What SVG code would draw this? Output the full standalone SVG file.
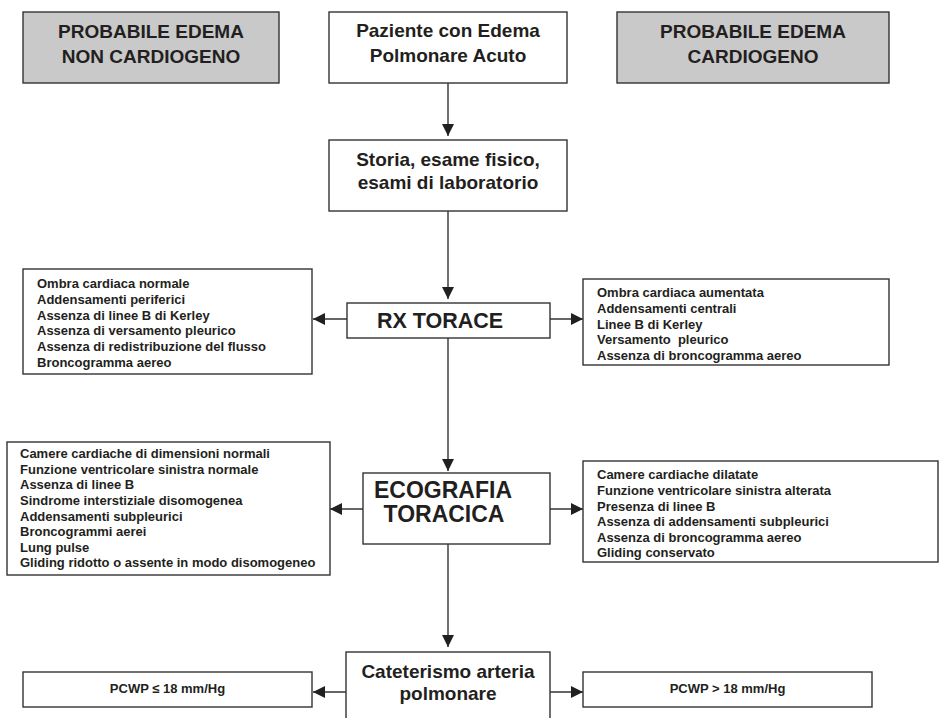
<svg xmlns="http://www.w3.org/2000/svg" width="939" height="718" viewBox="0 0 939 718">
<style>
.box{fill:#fff;stroke:#333;stroke-width:1.4}
.gray{fill:#c9c9c9;stroke:#333;stroke-width:1.4}
text{font-family:"Liberation Sans",Arial,sans-serif;font-weight:bold;fill:#231f20}
.t19{font-size:19px;text-anchor:middle}
.big{text-anchor:middle}
.li{font-size:13px;white-space:pre}
.pc{font-size:13px;text-anchor:middle}
.conn{stroke:#333;stroke-width:1.4;fill:none;marker-end:url(#ah)}
</style>
<defs>
<marker id="ah" viewBox="0 0 12 12" refX="12" refY="6" markerWidth="12" markerHeight="12" markerUnits="userSpaceOnUse" orient="auto">
<path d="M0,0 L12,6 L0,12 z" fill="#231f20"/>
</marker>
</defs>
<rect width="939" height="718" fill="#fff"/>

<g id="connectors">
<line class="conn" x1="448" y1="83" x2="448" y2="136"/>
<line class="conn" x1="448" y1="211" x2="448" y2="299"/>
<line class="conn" x1="347" y1="319" x2="313" y2="319"/>
<line class="conn" x1="550" y1="319" x2="583" y2="319"/>
<line class="conn" x1="448" y1="338" x2="448" y2="471"/>
<line class="conn" x1="363" y1="509" x2="330" y2="509"/>
<line class="conn" x1="550" y1="509" x2="583" y2="509"/>
<line class="conn" x1="448" y1="544" x2="448" y2="647"/>
<line class="conn" x1="346" y1="692" x2="313" y2="692"/>
<line class="conn" x1="550" y1="692" x2="583" y2="692"/>
</g>

<g id="non-cardiogeno">
<rect class="gray" x="23" y="12" width="256" height="71"/>
<text class="t19" x="151" y="38">PROBABILE EDEMA</text>
<text class="t19" x="151" y="63">NON CARDIOGENO</text>
</g>

<g id="paziente">
<rect class="box" x="329" y="12" width="238" height="71"/>
<text class="t19" x="448" y="37">Paziente con Edema</text>
<text class="t19" x="448" y="62">Polmonare Acuto</text>
</g>

<g id="cardiogeno">
<rect class="gray" x="617" y="12" width="272" height="71"/>
<text class="t19" x="753" y="38">PROBABILE EDEMA</text>
<text class="t19" x="753" y="63">CARDIOGENO</text>
</g>

<g id="storia">
<rect class="box" x="329" y="140" width="238" height="71"/>
<text class="t19" x="448" y="166">Storia, esame fisico,</text>
<text class="t19" x="448" y="189">esami di laboratorio</text>
</g>

<g id="rx">
<rect class="box" x="347" y="303" width="203" height="35"/>
<text class="big" x="440" y="328" font-size="21.5">RX TORACE</text>
</g>

<g id="rx-non-cardio">
<rect class="box" x="23" y="269" width="289" height="105"/>
<text class="li" x="37" y="288.3">Ombra cardiaca normale</text>
<text class="li" x="37" y="304">Addensamenti periferici</text>
<text class="li" x="37" y="319.7">Assenza di linee B di Kerley</text>
<text class="li" x="37" y="335.4">Assenza di versamento pleurico</text>
<text class="li" x="37" y="351">Assenza di redistribuzione del flusso</text>
<text class="li" x="37" y="366.7">Broncogramma aereo</text>
</g>

<g id="rx-cardio">
<rect class="box" x="583" y="279" width="306" height="86"/>
<text class="li" x="597" y="297.3">Ombra cardiaca aumentata</text>
<text class="li" x="597" y="313">Addensamenti centrali</text>
<text class="li" x="597" y="328.7">Linee B di Kerley</text>
<text class="li" x="597" y="344.4" xml:space="preserve">Versamento  pleurico</text>
<text class="li" x="597" y="360.1">Assenza di broncogramma aereo</text>
</g>

<g id="eco">
<rect class="box" x="363" y="473" width="187" height="71"/>
<text class="big" x="443" y="498" font-size="23">ECOGRAFIA</text>
<text class="big" x="444" y="522" font-size="23">TORACICA</text>
</g>

<g id="eco-non-cardio">
<rect class="box" x="7" y="442" width="323" height="133"/>
<text class="li" x="20" y="458.3">Camere cardiache di dimensioni normali</text>
<text class="li" x="20" y="473.9">Funzione ventricolare sinistra normale</text>
<text class="li" x="20" y="489.4">Assenza di linee B</text>
<text class="li" x="20" y="505">Sindrome interstiziale disomogenea</text>
<text class="li" x="20" y="520.6">Addensamenti subpleurici</text>
<text class="li" x="20" y="536.2">Broncogrammi aerei</text>
<text class="li" x="20" y="551.7">Lung pulse</text>
<text class="li" x="20" y="567.3">Gliding ridotto o assente in modo disomogeneo</text>
</g>

<g id="eco-cardio">
<rect class="box" x="583" y="461" width="355" height="101"/>
<text class="li" x="597" y="479.3">Camere cardiache dilatate</text>
<text class="li" x="597" y="494.9">Funzione ventricolare sinistra alterata</text>
<text class="li" x="597" y="510.5">Presenza di linee B</text>
<text class="li" x="597" y="526.1">Assenza di addensamenti subpleurici</text>
<text class="li" x="597" y="541.7">Assenza di broncogramma aereo</text>
<text class="li" x="597" y="557.3">Gliding conservato</text>
</g>

<g id="cateterismo">
<rect class="box" x="346" y="652" width="204" height="80"/>
<text class="t19" x="448" y="678">Cateterismo arteria</text>
<text class="t19" x="448" y="700">polmonare</text>
</g>

<g id="pcwp-low">
<rect class="box" x="23" y="672" width="289" height="35"/>
<text class="pc" x="167.5" y="693">PCWP ≤ 18 mm/Hg</text>
</g>

<g id="pcwp-high">
<rect class="box" x="583" y="672" width="289" height="35"/>
<text class="pc" x="727.5" y="693">PCWP &gt; 18 mm/Hg</text>
</g>
</svg>
